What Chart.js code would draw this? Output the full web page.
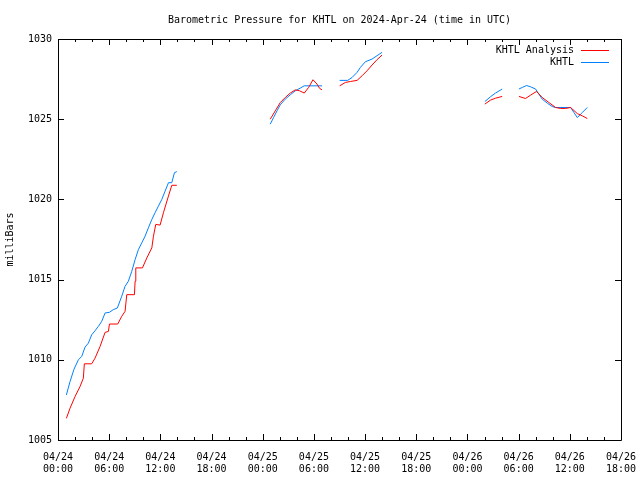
<!DOCTYPE html>
<html>
<head>
<meta charset="utf-8">
<script src="https://cdn.jsdelivr.net/npm/chart.js@4"></script>
<style>
    html, body { margin: 0; padding: 0; background: #fff; }
    #wrap { width: 640px; height: 480px; }
</style>
</head>
<body>
<div id="wrap"><canvas id="chart" width="640" height="480"></canvas></div>
<script>
// hours since 04/24 00:00 UTC, null marks a gap in the record
const analysisHours = [
    0.98, 1.41, 2.0, 2.58, 2.97, 3.09, 3.95, 4.34, 4.93, 5.52, 5.91, 6.03, 7.0, 7.47, 7.86, 8.06, 8.96, 9.04, 9.12, 9.9,
    10.41, 11.0, 11.19, 11.46, 11.97, 12.36, 12.95, 13.34, 13.93,
    19,
    24.88, 25.47, 26.06, 26.64, 27.23, 27.82, 28.32, 28.87, 29.38, 29.89, 30.36, 30.67, 30.95,
    32,
    33.02, 33.69, 34.27, 35.06, 35.65, 36.23, 36.82, 37.4, 37.99,
    44,
    50.04, 50.7, 51.29, 52.07,
    53,
    54.03, 54.81, 55.4, 56.1, 56.77, 57.55, 58.33, 58.92, 59.51, 60.09, 60.88, 61.47, 62.05,
];
const analysisMb = [
    1006.35, 1006.98, 1007.71, 1008.33, 1008.85, 1009.75, 1009.75, 1010.1, 1010.83, 1011.71, 1011.77, 1012.23, 1012.23,
    1012.71, 1013.02, 1014.06, 1014.06, 1014.9, 1015.73, 1015.73, 1016.35, 1016.98, 1017.71, 1018.44, 1018.4, 1019.17,
    1020.21, 1020.88, 1020.88,
    null,
    1025.0, 1025.52, 1026.04, 1026.35, 1026.63, 1026.83, 1026.77, 1026.63, 1026.98, 1027.46, 1027.19, 1026.92, 1026.83,
    null,
    1027.08, 1027.29, 1027.35, 1027.42, 1027.71, 1028.02, 1028.38, 1028.71, 1029.0,
    null,
    1025.94, 1026.19, 1026.31, 1026.42,
    null,
    1026.42, 1026.29, 1026.5, 1026.73, 1026.35, 1026.04, 1025.73, 1025.67, 1025.67, 1025.73, 1025.35, 1025.21, 1025.04,
];

const khtlHours = [
    0.98, 1.41, 1.88, 2.39, 2.78, 3.17, 3.56, 3.95, 4.34, 4.73, 5.13, 5.52, 6.03, 6.49, 6.96, 7.47, 7.86, 8.25, 8.65,
    9.04, 9.43, 9.82, 10.21, 10.6, 11.0, 11.38, 11.77, 12.17, 12.56, 12.95, 13.34, 13.65, 13.93,
    19,
    24.88, 25.27, 25.67, 26.06, 26.64, 27.23, 27.82, 28.4, 28.87, 30.95,
    32,
    33.02, 33.96, 34.47, 35.06, 35.45, 36.03, 36.82, 37.4, 37.99,
    44,
    50.04, 50.7, 51.29, 52.07,
    53,
    54.03, 54.42, 54.93, 55.4, 55.99, 56.37, 56.77, 57.36, 57.94, 58.33, 60.09, 60.48, 60.88, 61.47, 62.05,
];
const khtlMb = [
    1007.81, 1008.64, 1009.42, 1010.0, 1010.21, 1010.79, 1011.04, 1011.56, 1011.81, 1012.08, 1012.4, 1012.92, 1012.96,
    1013.13, 1013.23, 1013.96, 1014.58, 1014.9, 1015.52, 1016.25, 1016.88, 1017.29, 1017.71, 1018.23, 1018.75,
    1019.17, 1019.58, 1020.0, 1020.52, 1021.04, 1021.04, 1021.67, 1021.73,
    null,
    1024.69, 1025.1, 1025.52, 1025.9, 1026.25, 1026.52, 1026.77, 1026.94, 1027.08, 1027.08,
    null,
    1027.42, 1027.42, 1027.6, 1027.92, 1028.23, 1028.58, 1028.75, 1028.96, 1029.17,
    null,
    1026.1, 1026.4, 1026.63, 1026.88,
    null,
    1026.88, 1026.98, 1027.1, 1027.02, 1026.88, 1026.56, 1026.25, 1026.0, 1025.79, 1025.73, 1025.73, 1025.42,
    1025.1, 1025.42, 1025.73,
];

const tickDates = ['04/24', '04/24', '04/24', '04/24', '04/25', '04/25', '04/25', '04/25', '04/26', '04/26', '04/26', '04/26'];
const tickTimes = ['00:00', '06:00', '12:00', '18:00', '00:00', '06:00', '12:00', '18:00', '00:00', '06:00', '12:00', '18:00'];

const FONT = "'DejaVu Sans Mono', monospace";

const toPoints = (hours, values) => hours.map((h, i) => ({ x: h, y: values[i] }));

// gnuplot style frame: box, inward ticks on all four sides, legend top right
const framePlugin = {
    id: 'frame',
    afterDraw: (chart) => {
        const ctx = chart.ctx;
        const { left, right, top, bottom } = chart.chartArea;
        const xs = chart.scales.x;
        const ys = chart.scales.y;

        ctx.save();
        ctx.strokeStyle = '#000';
        ctx.lineWidth = 1;
        ctx.beginPath();
        ctx.rect(Math.round(left) + 0.5, Math.round(top) + 0.5, Math.round(right - left), Math.round(bottom - top));

        for (let h = 0; h <= 66; h += 2) {
            const px = Math.round(xs.getPixelForValue(h)) + 0.5;
            const len = h % 6 === 0 ? 6 : 3;
            ctx.moveTo(px, bottom);
            ctx.lineTo(px, bottom - len);
            ctx.moveTo(px, top);
            ctx.lineTo(px, top + len);
        }
        for (let v = 1005; v <= 1030; v += 5) {
            const py = Math.round(ys.getPixelForValue(v)) + 0.5;
            ctx.moveTo(left, py);
            ctx.lineTo(left + 6, py);
            ctx.moveTo(right, py);
            ctx.lineTo(right - 6, py);
        }
        ctx.stroke();

        ctx.font = `10px ${FONT}`;
        ctx.textAlign = 'right';
        ctx.textBaseline = 'middle';
        chart.data.datasets.forEach((ds, i) => {
            const y = top + 11 + i * 12;
            ctx.fillStyle = '#000';
            ctx.fillText(ds.label, right - 47, y);
            ctx.strokeStyle = ds.borderColor;
            ctx.beginPath();
            ctx.moveTo(right - 40, Math.round(y) + 0.5);
            ctx.lineTo(right - 12, Math.round(y) + 0.5);
            ctx.stroke();
        });
        ctx.restore();
    }
};

new Chart('chart', {
    type: 'line',
    data: {
        datasets: [
            {
                label: 'KHTL Analysis',
                data: toPoints(analysisHours, analysisMb),
                borderColor: '#ff0000',
                borderWidth: 1,
                pointRadius: 0,
                tension: 0,
            },
            {
                label: 'KHTL',
                data: toPoints(khtlHours, khtlMb),
                borderColor: '#0080ff',
                borderWidth: 1,
                pointRadius: 0,
                tension: 0,
            },
        ],
    },
    options: {
        responsive: false,
        animation: false,
        layout: {
            padding: { top: 0, right: 19, left: 0, bottom: 0 },
        },
        scales: {
            x: {
                type: 'linear',
                min: 0,
                max: 66,
                afterFit: (scale) => {
                    scale.height = 40;
                    scale.paddingLeft = 0;
                    scale.paddingRight = 0;
                },
                grid: { display: false },
                border: { display: false },
                ticks: {
                    stepSize: 6,
                    autoSkip: false,
                    maxRotation: 0,
                    padding: 3,
                    color: '#000',
                    font: { family: FONT, size: 10 },
                    callback: (value) => {
                        const i = Math.round(value / 6);
                        return [tickDates[i], tickTimes[i]];
                    },
                },
            },
            y: {
                min: 1005,
                max: 1030,
                afterFit: (scale) => { scale.width = 58; },
                grid: { display: false, drawTicks: false },
                border: { display: false },
                title: {
                    display: true,
                    text: 'milliBars',
                    color: '#000',
                    font: { family: FONT, size: 10 },
                    padding: { top: 4, bottom: 0 },
                },
                ticks: {
                    stepSize: 5,
                    padding: 6,
                    color: '#000',
                    font: { family: FONT, size: 10 },
                    callback: (value) => String(value),
                },
            },
        },
        plugins: {
            legend: { display: false },
            tooltip: { enabled: false },
            title: {
                display: true,
                fullSize: false,
                text: 'Barometric Pressure for KHTL on 2024-Apr-24 (time in UTC)',
                color: '#000',
                font: { family: FONT, size: 10, weight: 'normal', lineHeight: 1.2 },
                padding: { top: 14, bottom: 13 },
            },
        },
    },
    plugins: [framePlugin],
});
</script>
</body>
</html>
